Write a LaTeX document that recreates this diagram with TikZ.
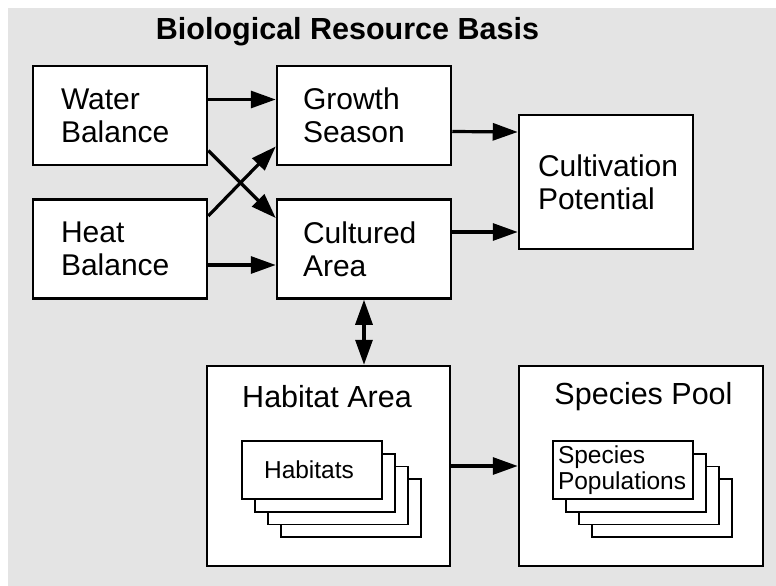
\documentclass[tikz,border=0pt]{standalone}
\usepackage{fontspec}
\setmainfont{Liberation Sans}
\usetikzlibrary{arrows.meta}
\definecolor{panelgray}{RGB}{228,228,228}

\begin{document}
\begin{tikzpicture}[
    x=1pt, y=-1pt,
    box/.style={rectangle, draw, fill=white, line width=2.5pt, minimum width=174pt, minimum height=99pt, inner sep=0pt, align=left, font=\fontsize{30}{33}\selectfont},
    pool/.style={rectangle, draw, fill=white, line width=2.5pt, minimum width=243pt, minimum height=200pt, inner sep=0pt},
    card/.style={rectangle, draw, fill=white, line width=1.6pt, minimum width=140pt, minimum height=58pt, inner sep=0pt, font=\fontsize{24.5}{26}\selectfont},
    heading/.style={inner sep=0pt, font=\fontsize{30.5}{33}\selectfont},
    arrow/.style={line width=3.2pt, -{Triangle[length=25pt, width=17pt]}},
    twoway/.style={line width=3.2pt, {Triangle[length=25pt, width=17pt]}-{Triangle[length=25pt, width=17pt]}}
]
    \useasboundingbox (0,0) rectangle (776,586);
    \fill[panelgray] (8,8) rectangle (776,586);

    \node[inner sep=0pt, font=\bfseries\fontsize{30.5}{33}\selectfont] (title) at (347.5,32) {Biological Resource Basis};

    \node[box, text width=118pt] (water) at (120,115.5) {Water\\Balance};
    \node[box, text width=118pt] (heat) at (120,249) {Heat\\Balance};
    \node[box, text width=122pt] (growth) at (364,115.5) {Growth\\Season};
    \node[box, text width=122pt] (cultured) at (364,249) {Cultured\\Area};
    \node[box, text width=136pt, minimum height=134pt] (cultivation) at (606,182) {Cultivation\\Potential};

    \node[pool] (habitat) at (328.5,466) {};
    \node[heading] (habitathead) at (327,397) {Habitat Area};
    \node[card] (hab4) at (351,508) {};
    \node[card] (hab3) at (338,495.5) {};
    \node[card] (hab2) at (325,483) {};
    \node[card] (hab1) at (312,470) {\hspace*{-6pt}Habitats};

    \node[pool, minimum width=244pt] (species) at (641,466) {};
    \node[heading] (specieshead) at (643.5,397) {Species Pool};
    \node[card] (pop4) at (662,508) {};
    \node[card] (pop3) at (649,495.5) {};
    \node[card] (pop2) at (636,483) {};
    \node[card, align=left, text width=130pt] (pop1) at (623,470) {Species\\Populations};

    \draw[arrow] ([yshift=16pt]water.east) -- ([yshift=16pt]growth.west);
    \draw[arrow] ([yshift=-35pt]water.east) -- ([yshift=31pt]cultured.west);
    \draw[arrow] ([yshift=33pt]heat.east) -- ([yshift=-31pt]growth.west);
    \draw[arrow] ([yshift=-16pt]heat.east) -- ([yshift=-16pt]cultured.west);
    \draw[arrow] ([yshift=-16pt]growth.east) -- ([yshift=50pt]cultivation.west);
    \draw[arrow] ([yshift=17pt]cultured.east) -- ([yshift=-50pt]cultivation.west);
    \draw[twoway] (cultured.south) -- (cultured.south |- habitat.north);
    \draw[arrow] (habitat.east) -- (species.west);
\end{tikzpicture}
\end{document}
